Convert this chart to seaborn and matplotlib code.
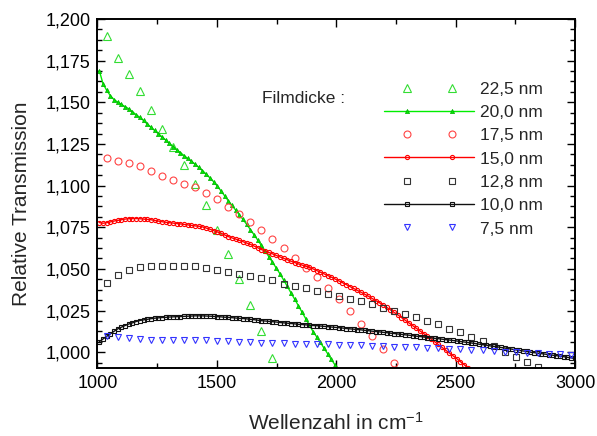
import numpy as np
import pandas as pd
import matplotlib
matplotlib.use("Agg")
import matplotlib.pyplot as plt
from matplotlib.lines import Line2D
from matplotlib.legend_handler import HandlerLine2D
from matplotlib.ticker import MultipleLocator, FixedLocator, FixedFormatter, AutoMinorLocator
import seaborn as sns

# ---------------- data ----------------
# dense spectra sampling (cm^-1)
dense_start = 1007.6
dense_step = 15.43
# sparse spectra sampling (every third dense point)
sparse_start = 1038.5
sparse_step = 46.29

t_20_0 = [1.1690, 1.1612, 1.1572, 1.1540, 1.1516, 1.1501, 1.1487, 1.1474, 1.1461, 1.1443,
          1.1426, 1.1409, 1.1391, 1.1370, 1.1351, 1.1331, 1.1312, 1.1293, 1.1274, 1.1254,
          1.1234, 1.1216, 1.1198, 1.1180, 1.1163, 1.1146, 1.1129, 1.1109, 1.1090, 1.1069,
          1.1047, 1.1024, 1.0998, 1.0969, 1.0939, 1.0909, 1.0881, 1.0853, 1.0825, 1.0797,
          1.0767, 1.0736, 1.0705, 1.0673, 1.0641, 1.0608, 1.0574, 1.0540, 1.0506, 1.0472,
          1.0434, 1.0396, 1.0357, 1.0319, 1.0280, 1.0241, 1.0202, 1.0163, 1.0124, 1.0092,
          1.0058, 1.0024, 0.9990, 0.9956, 0.9922]

t_15_0 = [1.0778, 1.0774, 1.0777, 1.0782, 1.0787, 1.0791, 1.0795, 1.0799, 1.0801, 1.0802,
          1.0802, 1.0801, 1.0799, 1.0797, 1.0795, 1.0791, 1.0787, 1.0783, 1.0780, 1.0777,
          1.0775, 1.0772, 1.0770, 1.0767, 1.0764, 1.0761, 1.0758, 1.0756, 1.0752, 1.0745,
          1.0738, 1.0730, 1.0722, 1.0714, 1.0704, 1.0694, 1.0686, 1.0679, 1.0671, 1.0663,
          1.0655, 1.0647, 1.0637, 1.0627, 1.0616, 1.0607, 1.0599, 1.0590, 1.0581, 1.0572,
          1.0564, 1.0555, 1.0546, 1.0538, 1.0530, 1.0523, 1.0516, 1.0509, 1.0500, 1.0490,
          1.0480, 1.0470, 1.0460, 1.0450, 1.0439, 1.0428, 1.0417, 1.0406, 1.0394, 1.0383,
          1.0371, 1.0360, 1.0348, 1.0336, 1.0323, 1.0310, 1.0297, 1.0283, 1.0269, 1.0254,
          1.0239, 1.0224, 1.0208, 1.0192, 1.0176, 1.0160, 1.0144, 1.0128, 1.0112, 1.0096,
          1.0080, 1.0063, 1.0046, 1.0029, 1.0012, 0.9995, 0.9978, 0.9961, 0.9943, 0.9925,
          0.9907]

t_10_0 = [1.0063, 1.0079, 1.0095, 1.0110, 1.0125, 1.0140, 1.0150, 1.0160, 1.0169, 1.0176,
          1.0184, 1.0190, 1.0194, 1.0197, 1.0201, 1.0204, 1.0206, 1.0208, 1.0209, 1.0211,
          1.0212, 1.0213, 1.0214, 1.0215, 1.0216, 1.0217, 1.0218, 1.0218, 1.0218, 1.0217,
          1.0216, 1.0215, 1.0213, 1.0212, 1.0210, 1.0209, 1.0207, 1.0205, 1.0203, 1.0202,
          1.0200, 1.0197, 1.0195, 1.0192, 1.0189, 1.0187, 1.0185, 1.0183, 1.0181, 1.0178,
          1.0176, 1.0174, 1.0172, 1.0170, 1.0167, 1.0166, 1.0164, 1.0162, 1.0160, 1.0159,
          1.0157, 1.0155, 1.0153, 1.0151, 1.0149, 1.0147, 1.0145, 1.0142, 1.0140, 1.0138,
          1.0136, 1.0134, 1.0131, 1.0129, 1.0126, 1.0124, 1.0122, 1.0119, 1.0117, 1.0114,
          1.0112, 1.0109, 1.0107, 1.0104, 1.0102, 1.0099, 1.0096, 1.0094, 1.0091, 1.0088,
          1.0086, 1.0083, 1.0081, 1.0078, 1.0075, 1.0073, 1.0070, 1.0067, 1.0064, 1.0061,
          1.0058, 1.0055, 1.0052, 1.0048, 1.0045, 1.0042, 1.0038, 1.0035, 1.0032, 1.0028,
          1.0025, 1.0021, 1.0018, 1.0014, 1.0011, 1.0007, 1.0004, 1.0000, 0.9997, 0.9994,
          0.9991, 0.9988, 0.9985, 0.9982, 0.9979, 0.9976, 0.9973, 0.9969, 0.9966, 0.9962]

t_22_5 = [1.1900, 1.1766, 1.1668, 1.1566, 1.1454, 1.1340, 1.1232, 1.1124, 1.1008, 1.0886,
          1.0736, 1.0592, 1.0440, 1.0284, 1.0126, 0.9964]

t_17_5 = [1.1166, 1.1146, 1.1136, 1.1116, 1.1086, 1.1056, 1.1031, 1.1012, 1.0990, 1.0956,
          1.0917, 1.0872, 1.0828, 1.0782, 1.0736, 1.0682, 1.0626, 1.0568, 1.0508, 1.0452,
          1.0386, 1.0318, 1.0250, 1.0172, 1.0096, 1.0017, 0.9937]

t_12_8 = [1.0418, 1.0462, 1.0496, 1.0510, 1.0515, 1.0515, 1.0515, 1.0517, 1.0516, 1.0506,
          1.0494, 1.0484, 1.0472, 1.0457, 1.0444, 1.0431, 1.0412, 1.0397, 1.0384, 1.0370,
          1.0352, 1.0336, 1.0322, 1.0306, 1.0288, 1.0268, 1.0248, 1.0232, 1.0212, 1.0190,
          1.0168, 1.0142, 1.0120, 1.0094, 1.0068, 1.0038, 1.0002, 0.9972, 0.9942, 0.9908]

t_7_5 = [1.0100, 1.0094, 1.0086, 1.0080, 1.0074, 1.0070, 1.0070, 1.0070, 1.0071, 1.0070,
         1.0068, 1.0064, 1.0061, 1.0058, 1.0056, 1.0054, 1.0052, 1.0051, 1.0050, 1.0048,
         1.0046, 1.0044, 1.0042, 1.0040, 1.0037, 1.0035, 1.0033, 1.0031, 1.0028, 1.0026,
         1.0023, 1.0020, 1.0016, 1.0013, 1.0010, 1.0006, 1.0002, 0.9999, 0.9996, 0.9992,
         0.9989, 0.9986, 0.9984]

legend_labels = ["22,5 nm", "20,0 nm", "17,5 nm", "15,0 nm", "12,8 nm", "10,0 nm", "7,5 nm"]
x_ticks = [1000, 1500, 2000, 2500, 3000]
x_tick_labels = ["1000", "1500", "2000", "2500", "3000"]
y_ticks = [1.000, 1.025, 1.050, 1.075, 1.100, 1.125, 1.150, 1.175, 1.200]
y_tick_labels = ["1,000", "1,025", "1,050", "1,075", "1,100", "1,125", "1,150", "1,175", "1,200"]
x_label = "Wellenzahl in cm$^{-1}$"
y_label = "Relative Transmission"
legend_title = "Filmdicke :"


def dense_x(vals):
    return dense_start + dense_step * np.arange(len(vals))


def sparse_x(vals):
    return sparse_start + sparse_step * np.arange(len(vals))


# ---------------- style ----------------
sns.set_style("ticks")
plt.rcParams["font.family"] = ["Liberation Sans", "DejaVu Sans"]
plt.rcParams["mathtext.fontset"] = "custom"
plt.rcParams["mathtext.rm"] = "Liberation Sans"
plt.rcParams["mathtext.it"] = "Liberation Sans"
plt.rcParams["mathtext.default"] = "regular"

fig = plt.figure(figsize=(5.97, 4.36), dpi=100)
ax = fig.add_axes([0.1633, 0.156, 0.8, 0.8004])

green_l = "#00ee00"
green_m = "#33dd33"
red_l = "#ff0000"
red_m = "#ff4444"
black_l = "#111111"
black_m = "#333333"
blue_m = "#3333ff"

common = dict(estimator=None, errorbar=None, sort=False, ax=ax, legend=False)

# 22,5 nm : open triangles
sns.lineplot(x=sparse_x(t_22_5), y=t_22_5, linestyle="none", marker="^", ms=5.8,
             mfc="none", mec=green_m, mew=0.8, color=green_m, **common)
# 20,0 nm : line with small filled triangles
sns.lineplot(x=dense_x(t_20_0), y=t_20_0, linestyle="-", lw=1.0, color=green_l, marker="^",
             ms=3.0, mfc=green_l, mec="#00aa00", mew=0.5, **common)
# 17,5 nm : open circles
sns.lineplot(x=sparse_x(t_17_5), y=t_17_5, linestyle="none", marker="o", ms=5.0,
             mfc="none", mec=red_m, mew=0.8, color=red_m, **common)
# 15,0 nm : line with small circles
sns.lineplot(x=dense_x(t_15_0), y=t_15_0, linestyle="-", lw=1.0, color=red_l, marker="o",
             ms=3.0, mfc="none", mec=red_l, mew=0.8, **common)
# 12,8 nm : open squares
sns.lineplot(x=sparse_x(t_12_8), y=t_12_8, linestyle="none", marker="s", ms=4.6,
             mfc="none", mec=black_m, mew=0.8, color=black_m, **common)
# 10,0 nm : line with small squares
sns.lineplot(x=dense_x(t_10_0), y=t_10_0, linestyle="-", lw=1.0, color=black_l, marker="s",
             ms=2.6, mfc="none", mec=black_l, mew=0.8, **common)
# 7,5 nm : open down triangles
sns.lineplot(x=sparse_x(t_7_5), y=t_7_5, linestyle="none", marker="v", ms=5.0,
             mfc="none", mec=blue_m, mew=0.8, color=blue_m, **common)

ax.set_xlim(1000, 3000)
ax.set_ylim(0.9905, 1.2)

ax.xaxis.set_major_locator(FixedLocator(x_ticks))
ax.xaxis.set_major_formatter(FixedFormatter(x_tick_labels))
ax.xaxis.set_minor_locator(MultipleLocator(250))
ax.yaxis.set_major_locator(FixedLocator(y_ticks))
ax.yaxis.set_major_formatter(FixedFormatter(y_tick_labels))
ax.yaxis.set_minor_locator(AutoMinorLocator(4))

ax.tick_params(which="both", direction="in", top=True, right=True, colors="black")
ax.tick_params(which="major", length=6, width=1.0, labelsize=13, pad=5)
ax.tick_params(which="minor", length=3.5, width=1.0)
for s in ax.spines.values():
    s.set_linewidth(1.4)
    s.set_color("black")

ax.set_xlabel(x_label, fontsize=15)
ax.set_ylabel(y_label, fontsize=15)
ax.xaxis.set_label_coords(0.5, -0.125)
ax.yaxis.set_label_coords(-0.14, 0.47)


class TwoMarkerHandler(HandlerLine2D):
    def create_artists(self, legend, orig_handle, xdescent, ydescent, width, height,
                       fontsize, trans):
        x0 = -xdescent
        x1 = -xdescent + width
        pad = 0.25 * width
        xdata = np.array([x0, x0 + pad, x1 - pad, x1])
        ydata = np.full_like(xdata, (height - ydescent) / 2)
        legline = Line2D(xdata, ydata)
        self.update_prop(legline, orig_handle, legend)
        legline.set_markevery([1, 2])
        legline.set_transform(trans)
        return [legline]


handles = ax.get_lines()[:7]
leg = ax.legend(handles=handles, labels=legend_labels, loc="upper left",
                bbox_to_anchor=(0.600, 0.821), frameon=False, fontsize=12.5,
                handlelength=5.2, handletextpad=0.3, labelspacing=0.47,
                borderpad=0, borderaxespad=0,
                handler_map={Line2D: TwoMarkerHandler()})

ax.text(0.3445, 0.7736, legend_title, transform=ax.transAxes, fontsize=12.5,
        ha="left", va="center")

fig.savefig("out.png", dpi=100)
